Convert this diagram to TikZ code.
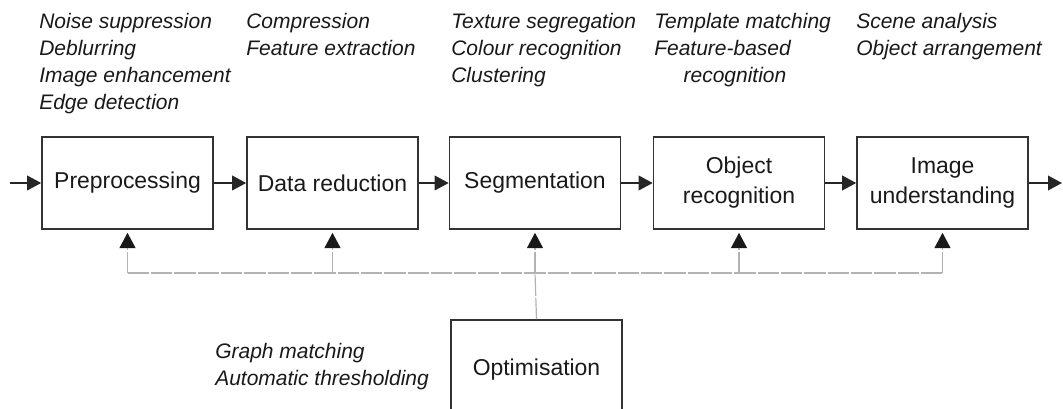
\documentclass[tikz,border=0pt]{standalone}
\usepackage{fontspec}
\setmainfont{Liberation Sans}
\usetikzlibrary{arrows.meta,calc}
\begin{document}
\begin{tikzpicture}[x=0.75pt,y=-0.75pt,
  stagebox/.style={draw=black!80,line width=1.2pt,minimum width=128.25pt,minimum height=69pt,inner sep=0pt,align=center,text=black!90,font=\fontsize{17.2}{22.5}\selectfont},
  flow/.style={draw=black!85,line width=1.1pt,-{Triangle[length=10.5pt,width=11pt]}},
  busline/.style={draw=black!30,line width=0.9pt,dash pattern=on 16pt off 1.5pt},
  feed/.style={busline,-{Triangle[length=11.5pt,width=12pt,color=black!90]}},
  note/.style={anchor=north west,align=left,inner sep=0pt,text=black!90,font=\fontsize{15.75}{20.25}\selectfont\itshape}]
\useasboundingbox (0,0) rectangle (1063,409);
\begin{scope}
\clip (0,0) rectangle (1063,409);
% notes
\node[note] (n1) at (39,13) {Noise suppression\\Deblurring\\Image enhancement\\Edge detection};
\node[note] (n2) at (246,13) {Compression\\Feature extraction};
\node[note] (n3) at (451,13) {Texture segregation\\Colour recognition\\Clustering};
\node[note] (n4) at (654,13) {Template matching\\Feature-based\\\hspace*{22pt}recognition};
\node[note] (n5) at (856,13) {Scene analysis\\Object arrangement};
\node[note] (n6) at (215,343) {Graph matching\\Automatic thresholding};
% boxes
\node[stagebox] (pre) at (127.5,183) {Preprocessing};
\node[stagebox] (dr) at (332.5,183) {Data reduction};
\node[stagebox] (seg) at (535,183) {Segmentation};
\node[stagebox] (obj) at (739,183) {Object\\recognition};
\node[stagebox] (img) at (942.5,183) {Image\\understanding};
\node[stagebox,minimum height=75pt] (opt) at (536.5,370) {Optimisation};
% flow arrows
\coordinate (in) at (10,183);
\coordinate (out) at (1062,183);
\draw[flow] (in) -- (pre.west);
\draw[flow] (pre.east) -- (dr.west);
\draw[flow] (dr.east) -- (seg.west);
\draw[flow] (seg.east) -- (obj.west);
\draw[flow] (obj.east) -- (img.west);
\draw[flow] (img.east) -- (out);
% feedback bus
\coordinate (bus) at (0,273);
\coordinate (b1) at (pre.south |- bus);
\coordinate (b2) at (dr.south |- bus);
\coordinate (b3) at (seg.south |- bus);
\coordinate (b4) at (obj.south |- bus);
\coordinate (b5) at (img.south |- bus);
\coordinate (t1) at ($(pre.south)+(0,3)$);
\coordinate (t2) at ($(dr.south)+(0,3)$);
\coordinate (t3) at ($(seg.south)+(0,3)$);
\coordinate (t4) at ($(obj.south)+(0,3)$);
\coordinate (t5) at ($(img.south)+(0,3)$);
\draw[busline] (b1) -- (b5);
\draw[busline] (opt.north) -- (b3);
\draw[feed] (b1) -- (t1);
\draw[feed] (b2) -- (t2);
\draw[feed] (b3) -- (t3);
\draw[feed] (b4) -- (t4);
\draw[feed] (b5) -- (t5);
\end{scope}
\end{tikzpicture}
\end{document}
